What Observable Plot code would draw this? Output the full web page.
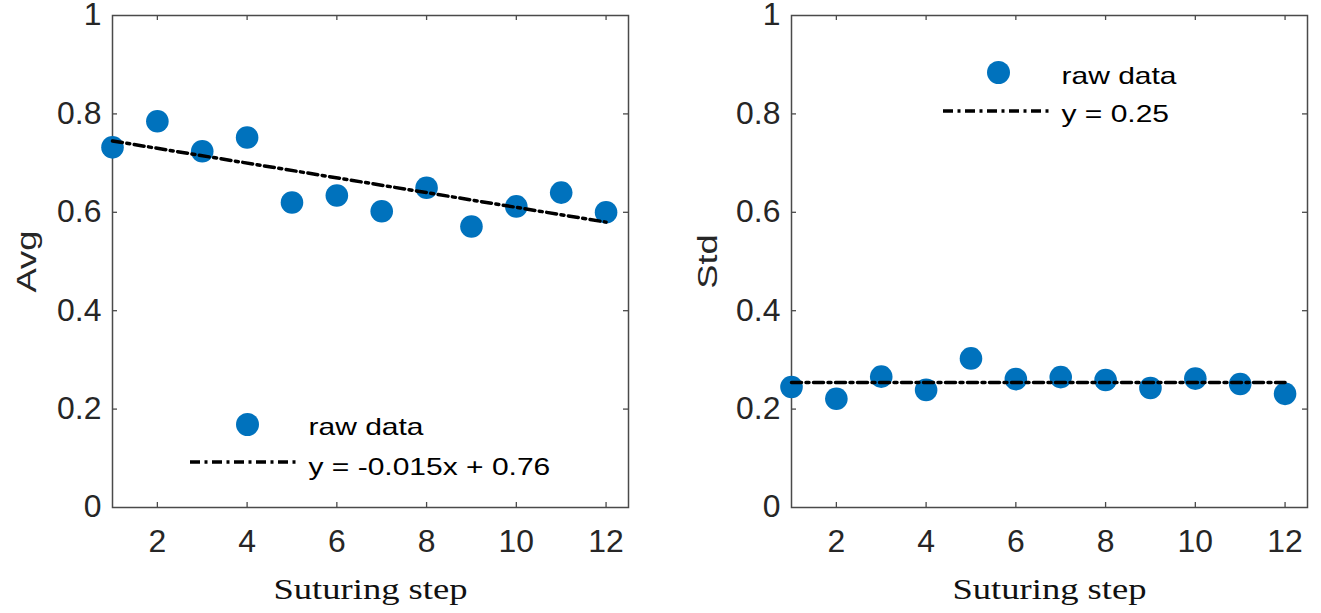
<!DOCTYPE html>
<html>
<head>
<meta charset="utf-8">
<script src="https://cdn.jsdelivr.net/npm/d3@7"></script>
<script src="https://cdn.jsdelivr.net/npm/@observablehq/plot@0.6"></script>
<style>
  html, body { margin: 0; padding: 0; background: #fff; }
  #wrap { display: flex; flex-direction: row; width: 1321px; height: 613px; }
  #wrap svg { display: block; }
</style>
</head>
<body>
<div id="wrap"></div>
<script>
// ---------- data ----------
const steps = [1, 2, 3, 4, 5, 6, 7, 8, 9, 10, 11, 12];
const avgValues = [0.732, 0.785, 0.724, 0.752, 0.620, 0.634, 0.602, 0.650, 0.571, 0.612, 0.640, 0.600];
const stdValues = [0.245, 0.221, 0.266, 0.239, 0.303, 0.261, 0.265, 0.259, 0.243, 0.262, 0.251, 0.231];
const trendSteps = [1, 12];
const avgTrend = [0.745, 0.580];
const stdTrend = [0.254, 0.254];
const xTicks = [2, 4, 6, 8, 10, 12];
const yTicks = [0, 0.2, 0.4, 0.6, 0.8, 1];
const yTickLabels = ["0", "0.2", "0.4", "0.6", "0.8", "1"];
const xLabel = "Suturing step";
const avgLegend = ["raw data", "y = -0.015x + 0.76"];
const stdLegend = ["raw data", "y = 0.25"];

// ---------- style ----------
const dotColor = "#0072BD";
const axisColor = "#4a4a4a";
const textColor = "#262626";
const dash = "10,4.5,3,4.5";
const lineW = 3.5;
const H = 613, MT = 15, MB = 106;
const innerH = H - MT - MB;

function panel(cfg) {
  const innerW = cfg.width - cfg.marginLeft - cfg.marginRight;
  const pts = steps.map((s, i) => ({step: s, value: cfg.values[i]}));
  const trend = trendSteps.map((s, i) => ({step: s, value: cfg.trend[i]}));
  const L = cfg.legend;
  const legendLine = () => {
    const g = d3.create("svg:g");
    g.append("line")
      .attr("x1", cfg.marginLeft + L.lineX1).attr("x2", cfg.marginLeft + L.lineX2)
      .attr("y1", MT + L.lineY).attr("y2", MT + L.lineY)
      .attr("stroke", "#000").attr("stroke-width", lineW).attr("stroke-dasharray", dash);
    return g.node();
  };
  const svg = Plot.plot({
    width: cfg.width, height: H,
    marginLeft: cfg.marginLeft, marginRight: cfg.marginRight, marginTop: MT, marginBottom: MB,
    style: {fontFamily: "'Liberation Sans', Arial, Helvetica, sans-serif", fontSize: "31px", color: textColor, background: "#fff", overflow: "visible"},
    x: {domain: [1, 12.5], ticks: xTicks, tickSize: 0, tickPadding: 22, label: null},
    y: {domain: [0, 1], ticks: yTicks, tickSize: 0, tickPadding: 11, label: null,
        tickFormat: d => yTickLabels[yTicks.indexOf(d)]},
    marks: [
      Plot.frame({stroke: axisColor, strokeWidth: 1.5}),
      Plot.ruleX(xTicks, {x: d => d, insetTop: innerH - 5, stroke: axisColor, strokeWidth: 1.3}),
      Plot.ruleX(xTicks, {x: d => d, insetBottom: innerH - 5, stroke: axisColor, strokeWidth: 1.3}),
      Plot.ruleY(yTicks.slice(1, -1), {y: d => d, insetRight: innerW - 5, stroke: axisColor, strokeWidth: 1.3}),
      Plot.ruleY(yTicks.slice(1, -1), {y: d => d, insetLeft: innerW - 5, stroke: axisColor, strokeWidth: 1.3}),
      Plot.dot(pts, {x: "step", y: "value", r: 11.3, fill: dotColor, stroke: "none"}),
      Plot.line(trend, {x: "step", y: "value", stroke: "#000", strokeWidth: lineW, strokeDasharray: dash}),
      // legend
      Plot.dot([cfg.legendText[0]], {frameAnchor: "top-left", dx: L.dotX, dy: L.dotY, r: 11.5, fill: dotColor}),
      Plot.text([cfg.legendText[0]], {text: d => d, frameAnchor: "top-left", dx: L.textX, dy: L.text1Y, textAnchor: "start", lineAnchor: "bottom", fontSize: 24, fill: "#000"}),
      legendLine,
      Plot.text([cfg.legendText[1]], {text: d => d, frameAnchor: "top-left", dx: L.textX, dy: L.text2Y, textAnchor: "start", lineAnchor: "bottom", fontSize: 24, fill: "#000"}),
      // axis titles
      Plot.text([cfg.yLabel], {text: d => d, frameAnchor: "left", rotate: -90, dx: cfg.yLabelDx, textAnchor: "middle", lineAnchor: "bottom", fontSize: 28, fill: textColor}),
      Plot.text([xLabel], {text: d => d, frameAnchor: "bottom", dy: 91, textAnchor: "middle", lineAnchor: "bottom", fontSize: 30, fill: "#111", fontFamily: "'Liberation Serif', 'Times New Roman', serif"})
    ]
  });
  // horizontal stretch of the text, as in the reference rendering
  const legendSet = new Set(cfg.legendText);
  d3.select(svg).selectAll("text").each(function () {
    const t = this;
    const content = t.textContent;
    const parentLabel = (t.parentNode && t.parentNode.getAttribute("aria-label")) || "";
    let s = 1;
    if (parentLabel.includes("tick label")) s = 1.03;
    else if (content === xLabel) s = 1.22;
    else if (content === cfg.yLabel) s = 1.3;
    else if (legendSet.has(content)) s = 1.25;
    if (s === 1) return;
    const x = +t.getAttribute("x") || 0, y = +t.getAttribute("y") || 0;
    const T = t.getAttribute("transform") || "";
    t.setAttribute("transform", `${T} translate(${x},${y}) scale(${s},1) translate(${-x},${-y})`);
  });
  return svg;
}

const wrap = document.getElementById("wrap");
wrap.appendChild(panel({
  values: avgValues, trend: avgTrend, yLabel: "Avg", yLabelDx: -77,
  width: 660, marginLeft: 112, marginRight: 32,
  legendText: avgLegend,
  legend: {dotX: 135, dotY: 409, textX: 196, text1Y: 419, lineX1: 78, lineX2: 185, lineY: 447, text2Y: 459}
}));
wrap.appendChild(panel({
  values: stdValues, trend: stdTrend, yLabel: "Std", yLabelDx: -75,
  width: 661, marginLeft: 131, marginRight: 14,
  legendText: stdLegend,
  legend: {dotX: 207, dotY: 57, textX: 270, text1Y: 68, lineX1: 152, lineX2: 261, lineY: 96, text2Y: 106}
}));
</script>
</body>
</html>
